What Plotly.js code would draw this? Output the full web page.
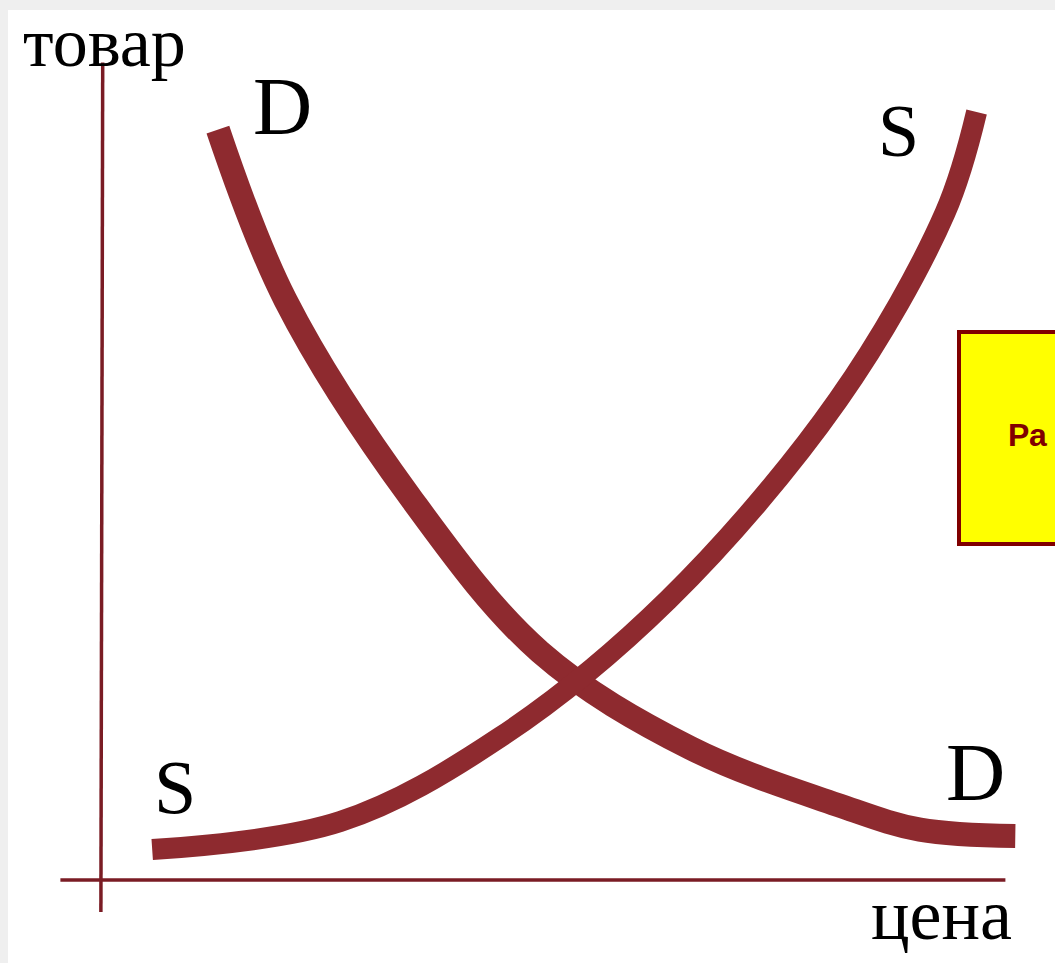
<!DOCTYPE html>
<html>
<head>
<meta charset="utf-8">
<script src="https://cdn.plot.ly/plotly-3.0.1.min.js"></script>
<style>
	html, body { margin: 0; padding: 0; background: #ffffff; }
	#gd { width: 1055px; height: 963px; }
</style>
</head>
<body>
<div id="gd"></div>
<script>
"use strict";

/* curve points (x = цена, y = товар) */
var demandX = [1.31, 2.06, 3.47, 4.89, 6.56, 8.22, 9.11, 10.17];
var demandY = [9.38, 7.25, 4.75, 2.85, 1.65, 0.93, 0.63, 0.55];

var supplyX = [0.58, 2.67, 4.44, 6.31, 8.20, 9.39, 9.74];
var supplyY = [0.38, 0.73, 1.78, 3.50, 6.00, 8.34, 9.60];

/* text labels */
var axisLabels = ["товар", "цена"];
var curveLabels = ["D", "S"];
var boxText = "Ра";

/* settings */
var W = 1055, H = 963;
var M = {l: 40, r: 25, t: 40, b: 40};
var curveColor = "#8e2a2f";
var axisColor = "#7a1c24";
var serif = "Liberation Serif, Times New Roman, serif";

/* pixel -> paper helpers for labels */
function px(x) { return (x - M.l) / (W - M.l - M.r); }
function py(y) { return (H - M.b - y) / (H - M.t - M.b); }

function label(text, x, y, size)
{
	return {
		text: text, xref: "paper", yref: "paper",
		x: px(x), y: py(y), xanchor: "center", yanchor: "middle",
		showarrow: false,
		font: {family: serif, size: size, color: "#000000"}
	};
}

function chart_main()
{
	var gd = document.getElementById("gd");

	var demand = {
		x: demandX, y: demandY,
		type: "scatter", mode: "lines",
		line: {color: curveColor, width: 24, shape: "spline", smoothing: 1},
		name: "D", hoverinfo: "skip"
	};

	var supply = {
		x: supplyX, y: supplyY,
		type: "scatter", mode: "lines",
		line: {color: curveColor, width: 21, shape: "spline", smoothing: 1},
		name: "S", hoverinfo: "skip"
	};

	var layout = {
		width: W, height: H,
		margin: M,
		paper_bgcolor: "#efefef",
		plot_bgcolor: "rgba(0,0,0,0)",
		showlegend: false,
		xaxis: {range: [-0.6667, 10.3333], visible: false, fixedrange: true},
		yaxis: {range: [-0.5375, 10.5], visible: false, fixedrange: true},
		shapes: [
			/* white sheet inside the grey rim */
			{type: "rect", xref: "paper", yref: "paper", layer: "below",
			 x0: px(8), x1: px(1070), y0: py(10), y1: py(980),
			 fillcolor: "#ffffff", line: {width: 0}},
			/* axes */
			{type: "line", xref: "x", yref: "y", x0: 0.01, x1: 0.03, y0: -0.4, y1: 10.22,
			 line: {color: axisColor, width: 3.5}},
			{type: "line", xref: "x", yref: "y", x0: -0.44, x1: 10.06, y0: 0, y1: 0,
			 line: {color: axisColor, width: 3.5}},
			/* yellow note box, cut by the right edge */
			{type: "rect", xref: "paper", yref: "paper",
			 x0: px(959), x1: px(1090), y0: py(332), y1: py(544),
			 fillcolor: "#ffff00", line: {color: "#800000", width: 4}}
		],
		annotations: [
			label(axisLabels[0], 104, 42, 70),
			label(axisLabels[1], 941, 915, 72),
			label(curveLabels[0], 282, 106, 82),
			label(curveLabels[1], 898, 131, 74),
			label(curveLabels[1], 175, 787, 76),
			label(curveLabels[0], 975, 772, 82),
			{text: "<b>" + boxText + "</b>", xref: "paper", yref: "paper",
			 x: px(1006), y: py(435), xanchor: "left", yanchor: "middle",
			 showarrow: false,
			 font: {family: "Liberation Sans, Arial, sans-serif", size: 32, color: "#800000"}}
		]
	};

	Plotly.newPlot(gd, [demand, supply], layout, {staticPlot: true});
}

chart_main();
</script>
</body>
</html>
